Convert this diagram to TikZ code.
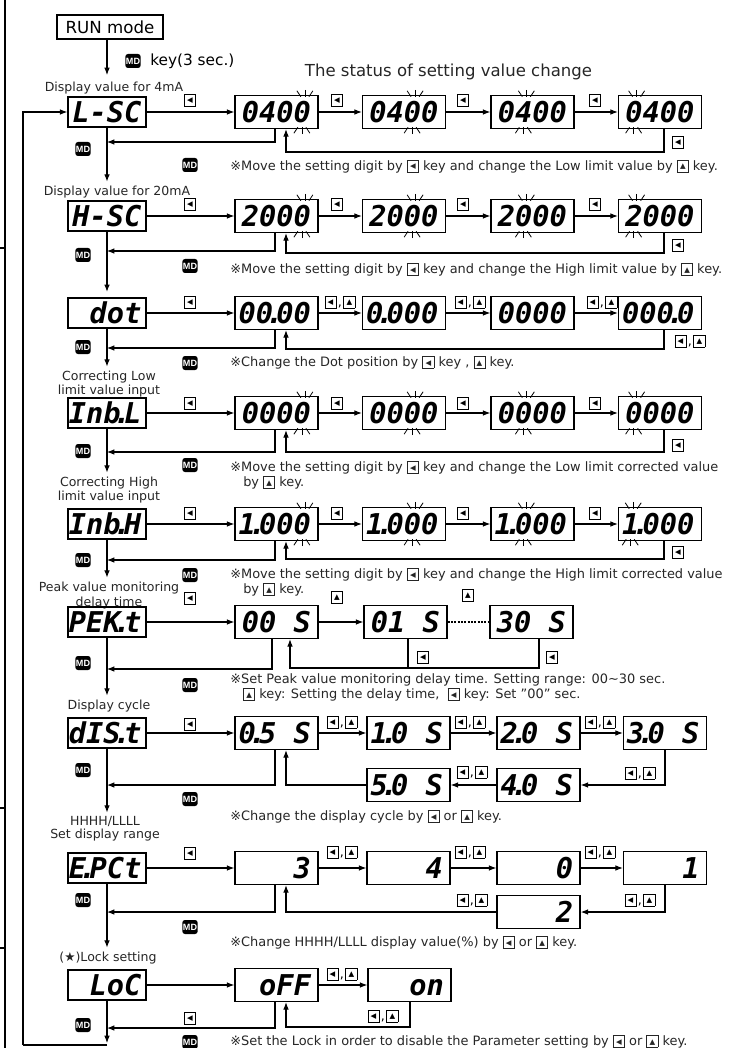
\documentclass[tikz,border=0pt]{standalone}
\usepackage{fontspec}
\setmainfont{DejaVu Sans}
\newfontfamily\segfont{DejaVu Sans Mono}
\newfontfamily\mdfont{Liberation Sans}
\usetikzlibrary{arrows.meta,calc}
\newcommand\keybox[1]{{\setlength\fboxsep{0.7pt}\setlength\fboxrule{0.6pt}\fbox{\makebox[6.4pt][c]{\rule[-0.3pt]{0pt}{7pt}\fontsize{5.5}{5.5}\selectfont\raisebox{1pt}{#1}}}}}
\newcommand\kL{\keybox{◀}}
\newcommand\kU{\keybox{▲}}
\newcommand\kLU{\kL\kern1pt,\kern1.2pt\kU}
\newcommand\dt{\makebox[0.12em][c]{.}}
\newcommand\bl{\hphantom{0}}
\newcommand\blink[2]{%
 \draw[blk] ($(#1.north)+(#2+1.5,-5)$) -- ++(0,7);
 \draw[blk] ($(#1.north)+(#2-6.5,-4)$) -- ++(4,6);
 \draw[blk] ($(#1.north)+(#2+9.5,-4)$) -- ++(-4,6);
 \draw[blk] ($(#1.south)+(#2-1.5,5)$) -- ++(0,-7);
 \draw[blk] ($(#1.south)+(#2-9.5,4)$) -- ++(4,-6);
 \draw[blk] ($(#1.south)+(#2+6.5,4)$) -- ++(-4,-6);
}
% #1 id, #2 centre y, #3 name, #4 value, #5 MD line y, #6 cycle line y, #7 key y, #8 cycle key y, #9 first-digit offset
\newcommand\stdrow[9]{%
 \node[namebox] (n#1) at (107,#2) {#3};
 \node[disp] (b#1a) at (276.5,#2) {#4};
 \node[disp] (b#1b) at (404,#2) {#4};
 \node[disp] (b#1c) at (532.5,#2) {#4};
 \node[disp] (b#1d) at (660,#2) {#4};
 \node[key] (k#1a) at (190,#7) {\kL};
 \node[key] (k#1b) at (337,#7) {\kL};
 \node[key] (k#1c) at (463,#7) {\kL};
 \node[key] (k#1d) at (595,#7) {\kL};
 \draw[arr] (n#1) -- (b#1a);
 \draw[arr] (b#1a) -- (b#1b);
 \draw[arr] (b#1b) -- (b#1c);
 \draw[arr] (b#1c) -- (b#1d);
 \coordinate (cy#1a) at (664,#6);
 \coordinate (cy#1b) at (286,#6);
 \draw[arr] (cy#1a |- b#1d.south) -- (cy#1a) -- (cy#1b) -- (cy#1b |- b#1a.south);
 \node[key] (k#1e) at (678,#8) {\kL};
 \coordinate (md#1) at (275,#5);
 \draw[arr] (md#1 |- b#1a.south) -- (md#1) -- (md#1 -| n#1.south);
 \blink{b#1a}{26.9}\blink{b#1b}{9.6}\blink{b#1c}{-7.65}\blink{b#1d}{#9}
}
\tikzset{
  ln/.style={line width=0.8pt, draw=black},
  arr/.style={ln, -{Latex[length=5.5pt,width=4.2pt]}},
  disp/.style={draw, line width=1.1pt, minimum height=24.75pt, minimum width=62.25pt,
    inner xsep=2.25pt, inner ysep=0pt, text width=57.75pt, align=right,
    font=\segfont\bfseries\itshape\fontsize{21.5}{21.5}\selectfont,
    execute at begin node={\hyphenpenalty=10000\exhyphenpenalty=10000\rule{0pt}{15.7pt}},
    execute at end node={\kern3pt}},
  namebox/.style={disp, minimum height=22.5pt, minimum width=58.5pt, inner xsep=0.5pt, text width=57.5pt},
  md/.style={fill=black, text=white, rounded corners=2pt, inner sep=0pt,
    minimum width=11.5pt, minimum height=10.5pt,
    font=\mdfont\bfseries\fontsize{6.8}{6.8}\selectfont},
  key/.style={inner sep=0pt, font=\fontsize{9.5}{9.5}\selectfont},
  lab/.style={inner sep=0pt, font=\fontsize{9.4}{11}\selectfont, text=black!85},
  note/.style={inner sep=0pt, anchor=west, font=\fontsize{9.7}{11}\selectfont, text=black!85,
    text height=7pt, text depth=2pt},
  blk/.style={line width=0.6pt},
}
\begin{document}
\begin{tikzpicture}[x=0.75pt,y=-0.75pt]
\useasboundingbox (0,0) rectangle (740,1048);
% left border
\draw[line width=1.4pt] (5,0) -- (5,1048);
\draw[line width=1.2pt] (0,248) -- (5,248) (0,808) -- (5,808) (0,948) -- (5,948);
% top
\node[draw, line width=0.8pt, minimum width=79.5pt, minimum height=18pt, inner sep=0pt,
  font=\fontsize{12.5}{12.5}\selectfont] (run) at (110,27) {RUN mode};
\node[md] (mdk) at (133,61) {MD};
\node[anchor=west, inner sep=0pt, font=\fontsize{11.5}{11.5}\selectfont] (keytxt) at (150,61) {key(3 sec.)};
\node[inner sep=0pt, font=\fontsize{12.4}{12.4}\selectfont, text=black!85] (title) at (448.5,72) {The status of setting value change};
% labels
\node[lab] (l1) at (114,88) {Display value for 4mA};
\node[lab] (l2) at (117,192) {Display value for 20mA};
\node[lab] (l4a) at (109,377) {Correcting Low};
\node[lab] (l4b) at (109,391) {limit value input};
\node[lab] (l5a) at (109,483) {Correcting High};
\node[lab] (l5b) at (109,497) {limit value input};
\node[lab] (l6a) at (109,588) {Peak value monitoring};
\node[lab] (l6b) at (109,603) {delay time};
\node[lab] (l7) at (109,706) {Display cycle};
\node[lab] (l8a) at (105,822) {HHHH/LLLL};
\node[lab] (l8b) at (105,835) {Set display range};
\node[lab] (l9) at (108,958) {(★)Lock setting};
% standard rows
\stdrow{A}{112}{L-SC}{0400}{142}{152}{100}{142}{-24.9}
\stdrow{B}{216}{H-SC}{2000}{251}{253}{204}{245}{-24.9}
\stdrow{D}{413}{Inb\dt L}{0000}{452}{452}{403}{445}{-24.9}
\stdrow{E}{524}{Inb\dt H}{1\dt000}{560}{559}{513}{552}{-28.3}
% row 3 dot
\node[namebox] (nC) at (107,313) {dot};
\node[disp] (bCa) at (276.5,313) {00\dt00};
\node[disp] (bCb) at (404,313) {0\dt000};
\node[disp] (bCc) at (532.5,313) {0000};
\node[disp] (bCd) at (660,313) {000\dt0};
\node[key] (kCa) at (190,302) {\kL};
\node[key] (kCb) at (340,302) {\kLU};
\node[key] (kCc) at (470,302) {\kLU};
\node[key] (kCd) at (602,302) {\kLU};
\draw[arr] (nC) -- (bCa);
\draw[arr] (bCa) -- (bCb);
\draw[arr] (bCb) -- (bCc);
\draw[arr] (bCc) -- (bCd);
\coordinate (cyCa) at (664,349);
\coordinate (cyCb) at (286,349);
\draw[arr] (cyCa |- bCd.south) -- (cyCa) -- (cyCb) -- (cyCb |- bCa.south);
\node[key] (kCe) at (690,341) {\kLU};
\coordinate (mdC) at (275,348);
\draw[arr] (mdC |- bCa.south) -- (mdC) -- (mdC -| nC.south);
% row 6 PEK.t
\node[namebox] (nF) at (107,622) {PEK\dt t};
\node[disp] (bFa) at (276.5,622) {00\bl S};
\node[disp] (bFb) at (405.5,622) {01\bl S};
\node[disp] (bFc) at (531.5,622) {30\bl S};
\node[key] (kFa) at (190,598) {\kL};
\node[key] (kFb) at (337,597) {\kU};
\node[key] (kFc) at (468,595) {\kU};
\draw[arr] (nF) -- (bFa);
\draw[arr] (bFa) -- (bFb);
\draw[ln, dash pattern=on 1.5pt off 1pt] (bFb) -- (bFc);
\coordinate (cyFa) at (408,668);
\coordinate (cyFb) at (539,668);
\coordinate (cyFc) at (290,668);
\draw[ln] (cyFa |- bFb.south) -- (cyFa);
\draw[arr] (cyFb |- bFc.south) -- (cyFb) -- (cyFc) -- (cyFc |- bFa.south);
\node[key] (kFd) at (423,657) {\kL};
\node[key] (kFe) at (552,657) {\kL};
\coordinate (mdF) at (272,669);
\draw[arr] (mdF |- bFa.south) -- (mdF) -- (mdF -| nF.south);
% row 7 dIS.t
\node[namebox] (nG) at (107,733) {dIS\dt t};
\node[disp] (bGa) at (276.5,733) {0\dt5\bl S};
\node[disp] (bGb) at (408.5,733) {1\dt0\bl S};
\node[disp] (bGc) at (538.5,733) {2\dt0\bl S};
\node[disp] (bGd) at (665,733) {3\dt0\bl S};
\node[disp] (bGe) at (538.5,785) {4\dt0\bl S};
\node[disp] (bGf) at (408.5,785) {5\dt0\bl S};
\node[key] (kGa) at (190,724) {\kL};
\node[key] (kGb) at (342,722) {\kLU};
\node[key] (kGc) at (470,722) {\kLU};
\node[key] (kGd) at (600,722) {\kLU};
\node[key] (kGe) at (640,773) {\kLU};
\node[key] (kGf) at (472,772) {\kLU};
\draw[arr] (nG) -- (bGa);
\draw[arr] (bGa) -- (bGb);
\draw[arr] (bGb) -- (bGc);
\draw[arr] (bGc) -- (bGd);
\draw[arr] (bGd.south) |- (bGe.east);
\draw[arr] (bGe) -- (bGf);
\coordinate (cyG) at (286,785);
\draw[arr] (bGf.west) -- (cyG) -- (cyG |- bGa.south);
\coordinate (mdG) at (275,785);
\draw[arr] (mdG |- bGa.south) -- (mdG) -- (mdG -| nG.south);
% row 8 E.PCt
\node[namebox] (nH) at (107,868) {E\dt PCt};
\node[disp] (bHa) at (276.5,868) {3};
\node[disp] (bHb) at (408.5,868) {4};
\node[disp] (bHc) at (538.5,868) {0};
\node[disp] (bHd) at (665,868) {1};
\node[disp] (bHe) at (538.5,912) {2};
\node[key] (kHa) at (190,853) {\kL};
\node[key] (kHb) at (342,852) {\kLU};
\node[key] (kHc) at (470,852) {\kLU};
\node[key] (kHd) at (600,852) {\kLU};
\node[key] (kHe) at (640,900) {\kLU};
\node[key] (kHf) at (472,900) {\kLU};
\draw[arr] (nH) -- (bHa);
\draw[arr] (bHa) -- (bHb);
\draw[arr] (bHb) -- (bHc);
\draw[arr] (bHc) -- (bHd);
\draw[arr] (bHd.south) |- (bHe.east);
\coordinate (cyH) at (286,912);
\draw[arr] (bHe.west) -- (cyH) -- (cyH |- bHa.south);
\coordinate (mdH) at (275,912);
\draw[arr] (mdH |- bHa.south) -- (mdH) -- (mdH -| nH.south);
% row 9 LoC
\node[namebox] (nI) at (107,985) {LoC};
\node[disp] (bIa) at (276.5,985) {oFF};
\node[disp] (bIb) at (409.5,985) {on};
\node[key] (kIa) at (342,974) {\kLU};
\node[key] (kIb) at (383,1016) {\kLU};
\node[key] (kIc) at (190,1018) {\kL};
\draw[arr] (nI) -- (bIa);
\draw[arr] (bIa) -- (bIb);
\coordinate (cyIa) at (410,1027);
\coordinate (cyIb) at (286,1027);
\draw[arr] (cyIa |- bIb.south) -- (cyIa) -- (cyIb) -- (cyIb |- bIa.south);
\coordinate (mdI) at (275,1028);
\draw[arr] (mdI |- bIa.south) -- (mdI) -- (mdI -| nI.south);
% main vertical flow
\draw[arr, shorten >=5pt] (run.south -| nA.north) -- (nA.north |- l1.north);
\draw[arr, shorten >=3pt] (nA.south) -- (nA.south |- l2.north);
\draw[arr, shorten >=4pt] (nB.south) -- (nC.north);
\draw[arr, shorten >=3pt] (nC.south) -- (nC.south |- l4a.north);
\draw[arr, shorten >=3pt] (nD.south) -- (nD.south |- l5a.north);
\draw[arr, shorten >=3pt] (nE.south) -- (nE.south |- l6a.north);
\draw[arr, shorten >=3pt] (nF.south) -- (nF.south |- l7.north);
\draw[arr, shorten >=3pt] (nG.south) -- (nG.south |- l8a.north);
\draw[arr, shorten >=3pt] (nH.south) -- (nH.south |- l9.north);
\coordinate (bot) at (107,1045);
\coordinate (lb) at (23,1045);
\draw[arr, shorten >=1.5pt] (nI.south) -- (bot);
\draw[ln] (bot) -- (lb);
\draw[arr] (lb) |- (nA.west);
% MD icons
\node[md] (mdlA) at (83,149) {MD};  \node[md] (mdmA) at (190,165) {MD};
\node[md] (mdlB) at (83,255) {MD};  \node[md] (mdmB) at (190,266) {MD};
\node[md] (mdlC) at (83,347) {MD};  \node[md] (mdmC) at (190,363) {MD};
\node[md] (mdlD) at (83,451) {MD};  \node[md] (mdmD) at (190,465) {MD};
\node[md] (mdlE) at (83,560) {MD};  \node[md] (mdmE) at (190,575) {MD};
\node[md] (mdlF) at (83,663) {MD};  \node[md] (mdmF) at (190,685) {MD};
\node[md] (mdlG) at (83,770) {MD};  \node[md] (mdmG) at (190,799) {MD};
\node[md] (mdlH) at (83,900) {MD};  \node[md] (mdmH) at (190,927) {MD};
\node[md] (mdlI) at (83,1025) {MD}; \node[md] (mdmI) at (190,1042) {MD};
% notes
\node[note] (tA) at (230,167) {※Move the setting digit by \kL\ key and change the Low limit value by \kU\ key.};
\node[note] (tB) at (230,270) {※Move the setting digit by \kL\ key and change the High limit value by \kU\ key.};
\node[note] (tC) at (230,363) {※Change the Dot position by \kL\ key , \kU\ key.};
\node[note] (tD) at (230,468) {※Move the setting digit by \kL\ key and change the Low limit corrected value};
\node[note] (tD2) at (243,483) {by \kU\ key.};
\node[note] (tE) at (230,575) {※Move the setting digit by \kL\ key and change the High limit corrected value};
\node[note] (tE2) at (243,590) {by \kU\ key.};
\node[note] (tF) at (230,680) {※Set Peak value monitoring delay time. Setting range: 00\textasciitilde 30 sec.};
\node[note] (tF2) at (243,695) {\kU\ key: Setting the delay time, \ \kL\ key: Set "00" sec.};
\node[note] (tG) at (230,817) {※Change the display cycle by \kL\ or \kU\ key.};
\node[note] (tH) at (230,943) {※Change HHHH/LLLL display value(\%) by \kL\ or \kU\ key.};
\node[note] (tI) at (230,1042) {※Set the Lock in order to disable the Parameter setting by \kL\ or \kU\ key.};
\end{tikzpicture}
\end{document}
